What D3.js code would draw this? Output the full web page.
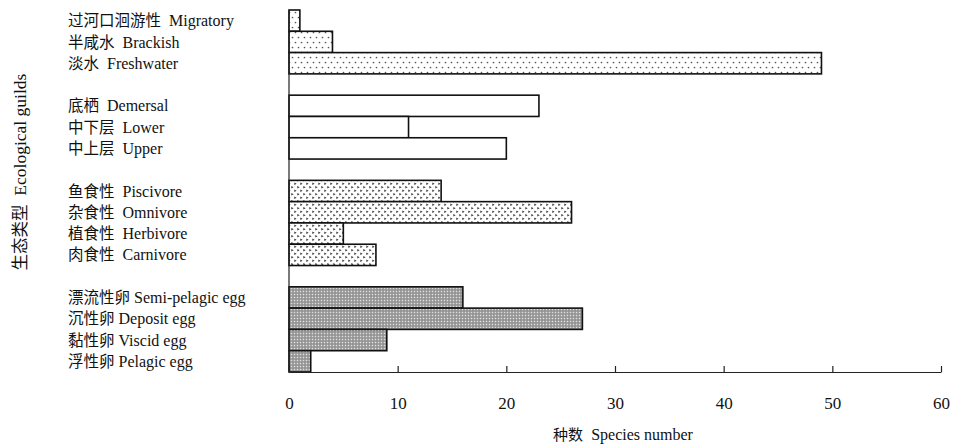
<!DOCTYPE html>
<html>
<head>
<meta charset="utf-8">
<script src="https://cdn.jsdelivr.net/npm/d3@7"></script>
<style>
  body { margin: 0; background: #fff; }
  svg { display: block; }
  text { font-family: "Liberation Serif", "Noto Sans CJK SC", serif; fill: #111; }
</style>
</head>
<body>
<div id="chart"></div>
<script>
// 类别（含组间空行）
const guildKeys = [
  "migratory", "brackish", "freshwater", "gap1",
  "demersal", "lower", "upper", "gap2",
  "piscivore", "omnivore", "herbivore", "carnivore", "gap3",
  "semipelagic", "deposit", "viscid", "pelagic"
];
const guildCn = ["过河口洄游性", "半咸水", "淡水", "", "底栖", "中下层", "中上层", "", "鱼食性", "杂食性", "植食性", "肉食性", "", "漂流性卵", "沉性卵", "黏性卵", "浮性卵"];
const guildEn = ["Migratory", "Brackish", "Freshwater", "", "Demersal", "Lower", "Upper", "", "Piscivore", "Omnivore", "Herbivore", "Carnivore", "", "Semi-pelagic egg", "Deposit egg", "Viscid egg", "Pelagic egg"];
const speciesCount = [1, 4, 49, null, 23, 11, 20, null, 14, 26, 5, 8, null, 16, 27, 9, 2];
const groupOf = [0, 0, 0, null, 1, 1, 1, null, 2, 2, 2, 2, null, 3, 3, 3, 3];
const xTicks = [0, 10, 20, 30, 40, 50, 60];

const width = 956, height = 447;
const margin = { left: 289, right: 15, top: 10, bottom: 75 };

const svg = d3.select("#chart").append("svg")
  .attr("width", width).attr("height", height);

// 填充图案
const defs = svg.append("defs");
const p1 = defs.append("pattern").attr("id", "pat0")
  .attr("patternUnits", "userSpaceOnUse").attr("width", 6).attr("height", 10);
p1.append("rect").attr("width", 6).attr("height", 10).attr("fill", "#fff");
p1.append("circle").attr("cx", 1.5).attr("cy", 2.5).attr("r", 0.85).attr("fill", "#555");
p1.append("circle").attr("cx", 4.5).attr("cy", 7.5).attr("r", 0.85).attr("fill", "#555");

const p3 = defs.append("pattern").attr("id", "pat2")
  .attr("patternUnits", "userSpaceOnUse").attr("width", 6).attr("height", 7);
p3.append("rect").attr("width", 6).attr("height", 7).attr("fill", "#fff");
p3.append("path").attr("d", "M0.3,0.6 L2.6,1.8 L0.3,3 Z").attr("fill", "#333");
p3.append("path").attr("d", "M3.3,4.1 L5.6,5.3 L3.3,6.5 Z").attr("fill", "#333");

const p4 = defs.append("pattern").attr("id", "pat3")
  .attr("patternUnits", "userSpaceOnUse").attr("width", 3).attr("height", 3);
p4.append("rect").attr("width", 3).attr("height", 3).attr("fill", "#a4a4a4");
p4.append("rect").attr("x", 0).attr("y", 0).attr("width", 1).attr("height", 1).attr("fill", "#e0e0e0");
p4.append("rect").attr("x", 1.5).attr("y", 1.5).attr("width", 1).attr("height", 1).attr("fill", "#6a6a6a");

const fills = ["url(#pat0)", "#fff", "url(#pat2)", "url(#pat3)"];

const x = d3.scaleLinear().domain([0, 60]).range([margin.left, width - margin.right]);
const y = d3.scaleBand().domain(guildKeys)
  .range([margin.top, height - margin.bottom]).paddingInner(0).paddingOuter(0);

const rows = guildKeys.map((k, i) => ({
  key: k, cn: guildCn[i], en: guildEn[i], value: speciesCount[i], group: groupOf[i]
}));
const bars = rows.filter(d => d.value !== null);

// 条形
svg.append("g").selectAll("rect")
  .data(bars)
  .join("rect")
  .attr("x", x(0))
  .attr("y", d => y(d.key))
  .attr("width", d => x(d.value) - x(0))
  .attr("height", y.bandwidth())
  .attr("fill", d => fills[d.group])
  .attr("stroke", "#111")
  .attr("stroke-width", 1.6);

// 纵轴线
svg.append("line")
  .attr("x1", x(0)).attr("x2", x(0))
  .attr("y1", margin.top).attr("y2", height - margin.bottom)
  .attr("stroke", "#222").attr("stroke-width", 1.2);

// 横轴（刻度朝内）
const xAxis = svg.append("g")
  .attr("transform", `translate(0,${height - margin.bottom})`)
  .call(d3.axisBottom(x).tickValues(xTicks).tickSize(-6).tickPadding(25).tickSizeOuter(0));
xAxis.select(".domain").attr("stroke", "#222").attr("stroke-width", 1.2);
xAxis.selectAll(".tick line").attr("stroke", "#222").attr("stroke-width", 1.2);
xAxis.selectAll(".tick text").attr("font-size", 17)
  .attr("font-family", "Liberation Serif, serif").attr("fill", "#111");

// 类别标签
const labels = svg.append("g").selectAll("text")
  .data(bars)
  .join("text")
  .attr("x", 68)
  .attr("y", d => y(d.key) + y.bandwidth() / 2)
  .attr("dy", "0.35em")
  .attr("font-size", 16);
labels.append("tspan").attr("font-family", "Noto Sans CJK SC").attr("font-size", 15.5).text(d => d.cn);
labels.append("tspan").text(d => (d.group === 3 ? " " : "\u00a0\u00a0") + d.en);

// 轴标题
svg.append("text")
  .attr("x", (x(0) + x(60)) / 2 + 8)
  .attr("y", 440)
  .attr("text-anchor", "middle")
  .attr("font-size", 16)
  .html('<tspan font-family="Noto Sans CJK SC" font-size="15">种数</tspan>\u00a0\u00a0Species number');

svg.append("text")
  .attr("transform", "translate(26,172) rotate(-90)")
  .attr("text-anchor", "middle")
  .attr("font-size", 17.5)
  .html('<tspan font-family="Noto Sans CJK SC" font-size="16.5">生态类型</tspan>\u00a0\u00a0Ecological guilds');
</script>
</body>
</html>
